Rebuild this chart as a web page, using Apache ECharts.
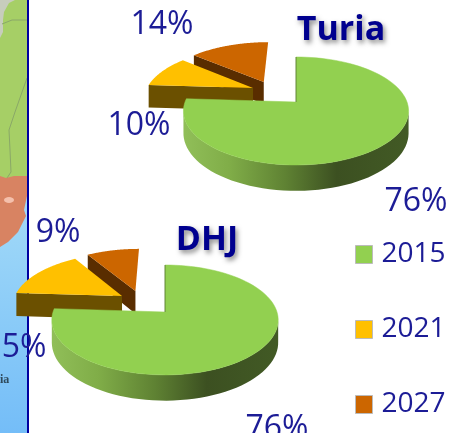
<!DOCTYPE html>
<html><head><meta charset="utf-8">
<style>html,body{margin:0;padding:0;background:#fff}#c{width:453px;height:433px}</style>
<script src="https://cdn.jsdelivr.net/npm/echarts@6/dist/echarts.min.js"></script></head>
<body><div id="c"></div>
<script>
const years = ['2015','2021','2027'];
const regions = ['Turia','DHJ'];
const values2015 = [76,76];
const values2021 = [10,15];
const values2027 = [14,9];
const topColors = ['#92d050','#ffc000','#cc6600'];
const sideColors = ['#4c6a28','#6b5000','#592d00'];

// layout of the two projected discs
const pies = [
 {x0:296,y0:102,A:52.5,B:111,k:0.1667,D:21.5,offs:[[0,0],[-0.405,0.279],[-0.31,0.407]],
  gx:[185,408],labels:[[416,202],[139,126],[162,25]],title:[341,30]},
 {x0:165,y0:312,A:53.8,B:112,k:0.145,D:22,offs:[[0,0],[-0.401,0.311],[-0.28,0.414]],
  gx:[53,279],labels:[[277,429],[15,348],[58,233]],title:[207,240]}
];
function startFrac(r,s){
  let a=0; const vs=[values2015[r],values2021[r],values2027[r]];
  for(let i=0;i<s;i++)a+=vs[i];
  return [a/100,(a+vs[s])/100];
}
function proj(p,u,v,z){
  const w=1+p.k*v;
  return [p.x0+p.B*u/w, p.y0-p.A*v/w+(z?z*p.D/w:0)];
}
function disc(p,s,f){
  const a=f*2*Math.PI;
  return [Math.sin(a)+p.offs[s][0], Math.cos(a)+p.offs[s][1]];
}
function arc(p,s,f0,f1,z){
  const pts=[]; const n=90;
  for(let i=0;i<=n;i++){const d=disc(p,s,f0+(f1-f0)*i/n);pts.push(proj(p,d[0],d[1],z));}
  return pts;
}
function renderSlice(s){
  return function(params,api){
    const r=params.dataIndex, p=pies[r], [f0,f1]=startFrac(r,s);
    const val=api.value(0);
    const z=s?1.1:1;
    const apex=proj(p,p.offs[s][0],p.offs[s][1],0);
    const apexB=proj(p,p.offs[s][0],p.offs[s][1],z);
    const top=arc(p,s,f0,f1,0), bot=arc(p,s,f0,f1,z);
    const children=[];
    if(s===0){
      const vis=[],visB=[];
      for(let i=0;i<top.length;i++){
        const d=disc(p,s,f0+(f1-f0)*i/90);
        if(d[1]<-p.k+0.03){vis.push(top[i]);visB.push(bot[i]);}
      }
      const [a,b]=p.gx;
      const fill={type:'linear',global:true,x:a,y:0,x2:b,y2:0,colorStops:[
        {offset:0,color:'#90be58'},{offset:0.2,color:'#80ad48'},{offset:0.45,color:'#5f8233'},
        {offset:0.68,color:'#3c5021'},{offset:1,color:'#425a25'}]};
      children.push({type:'polygon',shape:{points:vis.concat(visB.slice().reverse())},style:{fill:fill}});
      children.push({type:'polygon',shape:{points:[apex].concat(top)},style:{fill:topColors[0],stroke:'#92d050',lineWidth:0.5}});
      children.push({type:'line',shape:{x1:apex[0],y1:apex[1],x2:top[0][0],y2:top[0][1]},style:{stroke:'rgba(60,80,33,0.6)',lineWidth:1}});
    } else {
      children.push({type:'polygon',shape:{points:[top[0],apex,apexB,bot[0]]},style:{fill:sideColors[s]}});
      children.push({type:'polygon',shape:{points:[apex].concat(top)},style:{fill:topColors[s]}});
    }
    const lp=p.labels[s];
    children.push({type:'text',style:{text:val+'%',x:lp[0],y:lp[1],align:'center',verticalAlign:'middle',
      font:'32px "Open Sans"',fill:'#1c1c96'},z2:10});
    return {type:'group',children:children};
  };
}
function mk(s,vals,zv){
  return {type:'custom',name:years[s],coordinateSystem:'none',z:zv,silent:true,
    itemStyle:{color:topColors[s]},
    data:vals.map(v=>[v]),renderItem:renderSlice(s),clip:false};
}
const chart=echarts.init(document.getElementById('c'),null,{renderer:'canvas'});
const titleStyle={fontFamily:'Open Sans',fontWeight:'bold',fontSize:34,color:'#00008f',
  textShadowColor:'rgba(0,0,0,0.45)',textShadowBlur:5,textShadowOffsetX:2,textShadowOffsetY:3};
const sky={type:'linear',x:0,y:0,x2:0,y2:1,colorStops:[{offset:0,color:'#b4e4f6'},{offset:0.5,color:'#9fd8f8'},{offset:1,color:'#74bdf8'}]};
chart.setOption({
  animation:false,
  backgroundColor:'#fff',
  title:regions.map((t,i)=>({text:t,left:pies[i].title[0],top:pies[i].title[1],textAlign:'center',textVerticalAlign:'middle',textStyle:titleStyle,padding:0,z:20})),
  legend:{orient:'vertical',left:355,top:236,itemWidth:17,itemHeight:18,itemGap:38,
    data:years,icon:'rect',selectedMode:false,padding:0,itemStyle:{borderColor:'#bbb',borderWidth:1},
    textStyle:{fontFamily:'Open Sans',fontSize:28,color:'#1c1c96',padding:[3,0,0,4],lineHeight:34}},
  graphic:[
    {type:'rect',shape:{x:0,y:0,width:27,height:433},style:{fill:sky},z:0},
    {type:'rect',shape:{x:0,y:0,width:27,height:182},style:{fill:'#a6cf66'},z:0},
    {type:'polygon',shape:{points:[[0,0],[15,0],[9,3],[4,12],[3,20],[3,32],[0,38]]},style:{fill:'#c7cdbc'},z:0},
    {type:'polyline',shape:{points:[[2,24],[12,20],[27,20]]},style:{stroke:'#8aa868',fill:'none',lineWidth:1},z:0},
    {type:'polyline',shape:{points:[[27,78],[15,112],[9,130],[10,150],[11,172],[7,178]]},style:{stroke:'#8aa868',fill:'none',lineWidth:1},z:0},
    {type:'polygon',shape:{points:[[0,176],[6,178],[14,176],[27,176],[27,196],[24,210],[26,216],[18,232],[8,242],[0,247]]},style:{fill:'#d88362'},z:1},
    {type:'ellipse',shape:{cx:9,cy:200,rx:5,ry:3},style:{fill:'#f4c0ac'},z:1},
    {type:'text',style:{text:'ia',x:0,y:374,font:'bold 12px "Liberation Serif"',fill:'#2f4a5c'},z:1},
    {type:'rect',shape:{x:27,y:0,width:2,height:433},style:{fill:'#0000a0'},z:2}
  ],
  series:[mk(2,values2027,5),mk(1,values2021,6),mk(0,values2015,7)]
});
</script></body></html>
